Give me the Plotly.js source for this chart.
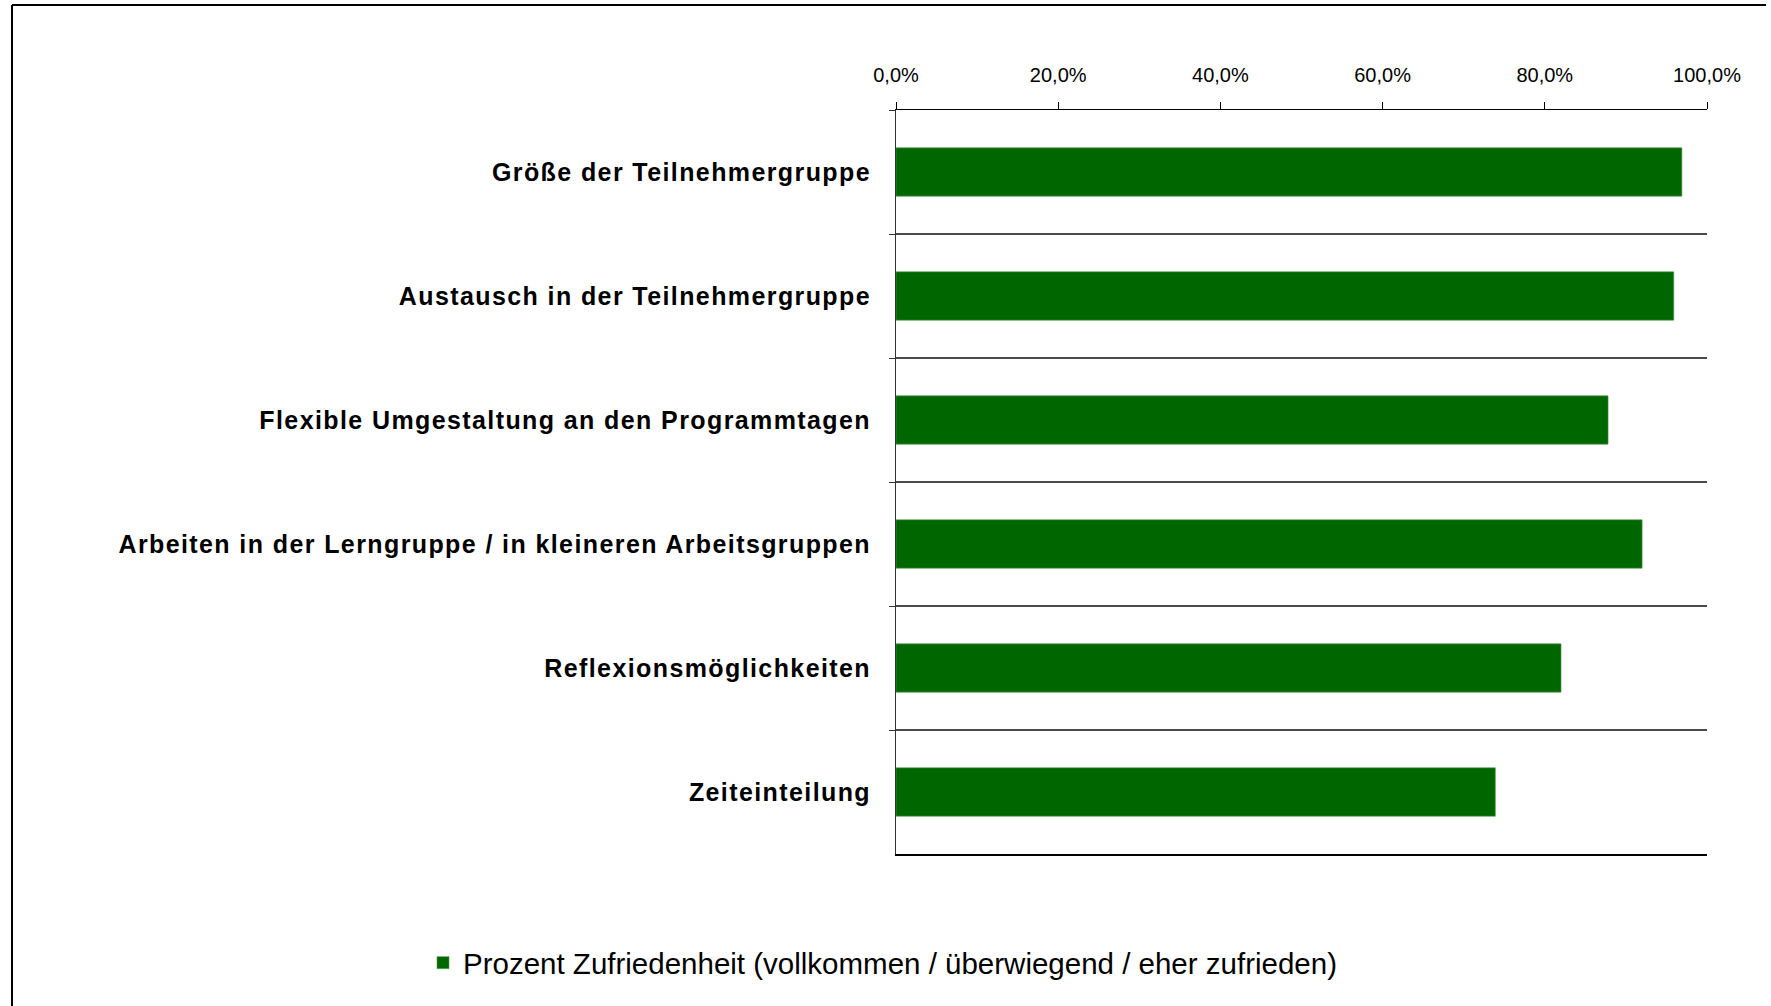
<!DOCTYPE html>
<html>
<head>
<meta charset="utf-8">
<script src="https://cdn.plot.ly/plotly-3.0.1.min.js"></script>
<style>
  html, body { margin: 0; padding: 0; background: #fff; }
  #chart { width: 1771px; height: 1006px; }
  .ytick text { letter-spacing: 1.4px; }
</style>
</head>
<body>
<div id="chart"></div>
<script>
const categories = [
  "Größe der Teilnehmergruppe",
  "Austausch in der Teilnehmergruppe",
  "Flexible Umgestaltung an den Programmtagen",
  "Arbeiten in der Lerngruppe / in kleineren Arbeitsgruppen",
  "Reflexionsmöglichkeiten",
  "Zeiteinteilung"
];
const satisfaction = [96.9, 95.9, 87.8, 92.0, 82.0, 73.9];
const seriesName = "Prozent Zufriedenheit (vollkommen / überwiegend / eher zufrieden)";
const xTicks = [0, 20, 40, 60, 80, 100];
const xTickLabels = ["0,0%", "20,0%", "40,0%", "60,0%", "80,0%", "100,0%"];

const W = 1771, H = 1006;
const M = { l: 896, r: 64, t: 110, b: 152 };
const pw = W - M.l - M.r, ph = H - M.t - M.b;
const px2x = p => (p - M.l) / pw;
const py2y = p => (H - M.b - p) / ph;

const trace = {
  type: "bar",
  orientation: "h",
  x: satisfaction,
  y: categories,
  name: seriesName,
  marker: { color: "#006600", line: { color: "#4f9a4f", width: 0.6 } },
  hoverinfo: "x+y"
};

const layout = {
  width: W, height: H, autosize: false,
  margin: M,
  paper_bgcolor: "#ffffff",
  plot_bgcolor: "#ffffff",
  separators: ",.",
  bargap: 0.61,
  showlegend: true,
  font: { family: "Liberation Sans, Arial, sans-serif", color: "#000" },
  xaxis: {
    side: "top",
    range: [0, 100],
    tickmode: "array",
    tickvals: xTicks,
    ticktext: xTickLabels,
    ticks: "outside",
    ticklen: 7,
    tickcolor: "#000",
    tickwidth: 1,
    ticklabelstandoff: 12,
    tickfont: { size: 20, family: "Liberation Sans, Arial, sans-serif", color: "#000" },
    showline: true,
    linecolor: "#000",
    linewidth: 1.5,
    mirror: true,
    showgrid: false,
    zeroline: false,
    fixedrange: true
  },
  yaxis: {
    type: "category",
    autorange: "reversed",
    tickson: "boundaries",
    ticks: "outside",
    ticklen: 6,
    tickcolor: "#333",
    tickwidth: 1,
    ticklabelstandoff: 19,
    tickfont: { size: 25, family: "Liberation Sans, Arial, sans-serif", weight: "bold", color: "#000" },
    showgrid: true,
    gridcolor: "#4a4a4a",
    gridwidth: 1.5,
    showline: true,
    linecolor: "#333",
    linewidth: 1,
    zeroline: false,
    fixedrange: true
  },
  legend: {
    orientation: "h",
    xref: "container", yref: "container",
    x: 423 / W, xanchor: "left",
    y: 1 - 963 / H, yanchor: "middle",
    font: { size: 29.5, family: "Liberation Sans, Arial, sans-serif", color: "#000" },
    bgcolor: "rgba(0,0,0,0)"
  },
  shapes: [
    { type: "line", xref: "paper", yref: "paper",
      x0: px2x(12), x1: px2x(12), y0: py2y(5), y1: py2y(1010),
      line: { color: "#000", width: 2 } },
    { type: "line", xref: "paper", yref: "paper",
      x0: px2x(12), x1: px2x(1766), y0: py2y(5), y1: py2y(5),
      line: { color: "#000", width: 2 } }
  ]
};

Plotly.newPlot("chart", [trace], layout, { displayModeBar: false, staticPlot: true });
</script>
</body>
</html>
